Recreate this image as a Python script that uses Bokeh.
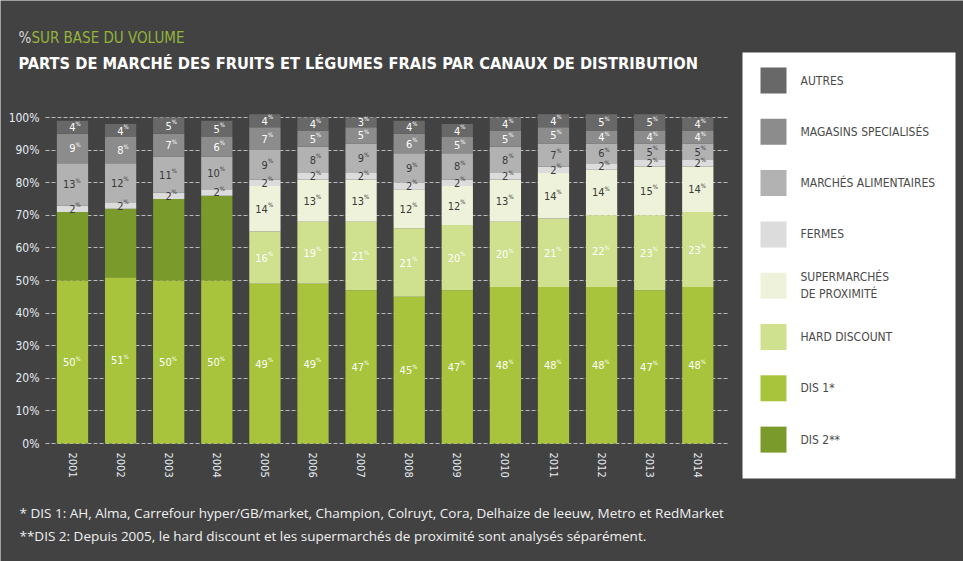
import math
from bokeh.plotting import figure
from bokeh.models import (ColumnDataSource, Range1d, FixedTicker, BoxAnnotation, Label)
from bokeh.core.properties import value
from bokeh.embed import file_html
from bokeh.resources import INLINE

# ---------------- data ----------------
years = ["2001", "2002", "2003", "2004", "2005", "2006", "2007",
         "2008", "2009", "2010", "2011", "2012", "2013", "2014"]
dis1 = [50, 51, 50, 50, 49, 49, 47, 45, 47, 48, 48, 48, 47, 48]
dis2 = [21, 21, 25, 26, 0, 0, 0, 0, 0, 0, 0, 0, 0, 0]
hard_discount = [0, 0, 0, 0, 16, 19, 21, 21, 20, 20, 21, 22, 23, 23]
supermarches_prox = [0, 0, 0, 0, 14, 13, 13, 12, 12, 13, 14, 14, 15, 14]
fermes = [2, 2, 2, 2, 2, 2, 2, 2, 2, 2, 2, 2, 2, 2]
marches_alim = [13, 12, 11, 10, 9, 8, 9, 9, 8, 8, 7, 6, 5, 5]
magasins_spec = [9, 8, 7, 6, 7, 5, 5, 6, 5, 5, 5, 4, 4, 4]
autres = [4, 4, 5, 5, 4, 4, 3, 4, 4, 4, 4, 5, 5, 4]

y_ticks = [0, 10, 20, 30, 40, 50, 60, 70, 80, 90, 100]
y_tick_labels = ["0%", "10%", "20%", "30%", "40%", "50%", "60%", "70%", "80%", "90%", "100%"]

series_keys = ["dis1", "dis2", "hd", "sp", "fermes", "marches", "magasins", "autres"]
series_vals = [dis1, dis2, hard_discount, supermarches_prox, fermes, marches_alim, magasins_spec, autres]
series_names = ["DIS 1*", "DIS 2**", "HARD DISCOUNT", "SUPERMARCHÉS\nDE PROXIMITÉ", "FERMES",
                "MARCHÉS ALIMENTAIRES", "MAGASINS SPECIALISÉS", "AUTRES"]
legend_order = [7, 6, 5, 4, 3, 2, 0, 1]

title = "PARTS DE MARCHÉ DES FRUITS ET LÉGUMES FRAIS PAR CANAUX DE DISTRIBUTION"
subtitle = "SUR BASE DU VOLUME"
note1 = ("* DIS 1: AH, Alma, Carrefour hyper/GB/market, Champion, Colruyt, Cora, "
         "Delhaize de leeuw, Metro et RedMarket")
note2 = ("**DIS 2: Depuis 2005, le hard discount et les supermarchés de proximité "
         "sont analysés séparément.")

# ---------------- style ----------------
colors = ["#a7c43c", "#7a9a2c", "#cfe08e", "#eef2da", "#dcdcdc", "#b2b2b2", "#8c8c8c", "#686868"]
label_colors = ["#ffffff", None, "#ffffff", "#3a3a3a", "#3a3a3a", "#3a3a3a", "#ffffff", "#ffffff"]
BG = "#424242"
NARROW = "DejaVu Sans Condensed"
W, H = 963, 561

# pixel <-> data mapping (frame covers the whole canvas)
PX_PER_X = 48.1      # pixels per category step
X_ORIGIN_PX = 72     # pixel x of first bar centre
PX_PER_Y = 3.26      # pixels per percent
Y_ZERO_PX = 443      # pixel y (from top) of the 0% line


def dx(px):
    return (px - X_ORIGIN_PX) / PX_PER_X


def dy(py):
    return (Y_ZERO_PX - py) / PX_PER_Y


xs = list(range(len(years)))
data = {"x": xs}
for k, v in zip(series_keys, series_vals):
    data[k] = v
src = ColumnDataSource(data)

p = figure(width=W, height=H, output_backend="svg", toolbar_location=None,
           x_range=Range1d(dx(0), dx(W)), y_range=Range1d(dy(H), dy(0)), min_border=0)
p.background_fill_color = BG
p.border_fill_color = BG
p.outline_line_color = None
p.axis.visible = False
p.xgrid.grid_line_color = None
p.ygrid.ticker = FixedTicker(ticks=y_ticks)
p.ygrid.grid_line_color = "#d8d8d8"
p.ygrid.grid_line_dash = "4 2"
p.ygrid.grid_line_alpha = 0.8
p.ygrid.cross_bounds = (dx(45), dx(728))
p.ygrid.level = "underlay"

p.vbar_stack(series_keys, x="x", width=0.65, color=colors, source=src, line_color=None)

# segment value labels
lx, ly, lt, lc = [], [], [], []
bottoms = [0] * len(years)
for vals, col in zip(series_vals, label_colors):
    for i, v in enumerate(vals):
        if v > 0 and col is not None:
            lx.append(i)
            ly.append(bottoms[i] + v / 2)
            lt.append(str(v))
            lc.append(col)
    bottoms = [b + v for b, v in zip(bottoms, vals)]
lsrc = ColumnDataSource(dict(x=lx, y=ly, t=lt, c=lc, pc=["%"] * len(lx)))
p.text(x="x", y="y", text="t", source=lsrc, text_color="c", text_align="right",
       text_baseline="middle", x_offset=3, text_font=value(NARROW), text_font_size="11px")
p.text(x="x", y="y", text="pc", source=lsrc, text_color="c", text_align="left",
       text_baseline="middle", x_offset=3, y_offset=-4, text_font=value(NARROW), text_font_size="6px")

# y tick labels
p.text(x=[dx(39)] * len(y_ticks), y=y_ticks, text=y_tick_labels, text_color="#e6ecf2",
       text_align="right", text_baseline="middle", text_font=value(NARROW), text_font_size="12px")

# year labels (rotated, reading downward)
p.text(x=xs, y=[dy(452)] * len(xs), text=years, angle=-math.pi / 2, text_color="#e6ecf2",
       text_align="left", text_baseline="middle", text_font=value(NARROW), text_font_size="11px")

# titles
p.add_layout(Label(x=dx(18), y=dy(37), text="%", text_color="#d6d6d6", text_baseline="middle",
                   text_font=NARROW, text_font_size="15px"))
p.add_layout(Label(x=dx(31), y=dy(37), text=subtitle, text_color="#93b43a", text_baseline="middle",
                   text_font=NARROW, text_font_size="15px"))
p.add_layout(Label(x=dx(18), y=dy(63), text=title, text_color="#ffffff", text_baseline="middle",
                   text_font=NARROW, text_font_size="16.3px", text_font_style="bold"))

# footnotes
p.add_layout(Label(x=dx(19), y=dy(512), text=note1, text_color="#f0f0f0", text_baseline="middle",
                   text_font="Open Sans", text_font_size="13.5px"))
p.add_layout(Label(x=dx(19), y=dy(535), text=note2, text_color="#f0f0f0", text_baseline="middle",
                   text_font="Open Sans", text_font_size="13.5px"))

# legend box
p.add_layout(BoxAnnotation(left=dx(742), right=dx(955), top=dy(52), bottom=dy(478),
                           fill_color="#ffffff", fill_alpha=1.0, line_color=None, level="underlay"))
n = len(legend_order)
leg_y = [dy(80 + k * 51.3) for k in range(n)]
leg_src = ColumnDataSource(dict(
    x=[dx(773)] * n, y=leg_y, tx=[dx(800)] * n,
    c=[colors[i] for i in legend_order], name=[series_names[i] for i in legend_order]))
p.rect(x="x", y="y", width=26, height=26, width_units="screen", height_units="screen",
       fill_color="c", line_color=None, source=leg_src)
p.text(x="tx", y="y", text="name", source=leg_src, text_color="#4a4a4a", text_align="left",
       text_baseline="middle", text_font=value(NARROW), text_font_size="12px", text_line_height=1.25)

open("out.html", "w").write(file_html(p, INLINE))
